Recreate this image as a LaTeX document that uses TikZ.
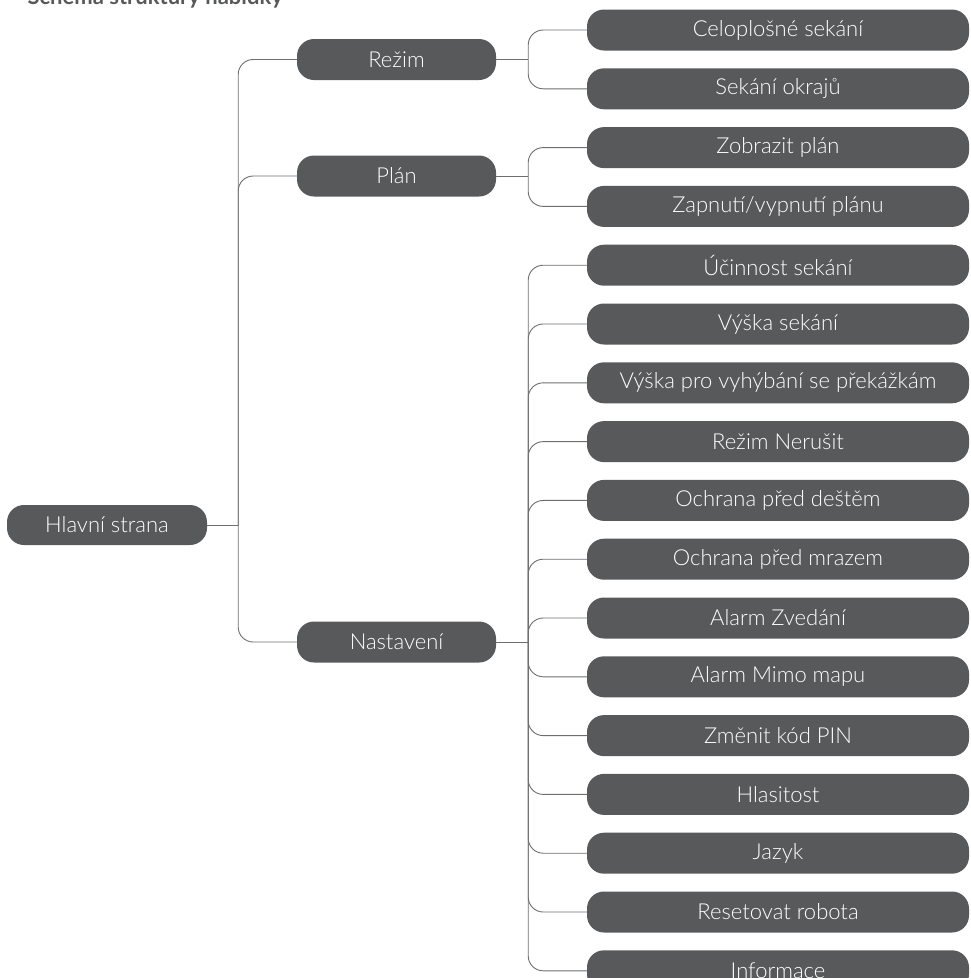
\documentclass[tikz,border=0pt]{standalone}
\usepackage{fontspec}
\setmainfont{Lato Light}
\newfontfamily\titlefont{Lato}
\usetikzlibrary{positioning}
\definecolor{boxgray}{HTML}{58595B}
\definecolor{linegray}{HTML}{6D6E71}

\begin{document}
\begin{tikzpicture}[
  x=1pt, y=-1pt,
  node distance=17.4pt,
  box/.style={
    rectangle, fill=boxgray, rounded corners=17pt,
    minimum height=41pt, inner sep=0pt, text=white,
    font=\fontsize{22}{26}\selectfont, align=center
  },
  rootbox/.style={box, minimum width=200pt, minimum height=40pt},
  menubox/.style={box, minimum width=199pt},
  itembox/.style={box, minimum width=382pt},
  link/.style={draw=linegray, line width=0.9pt},
  elbow/.style={link, rounded corners=15pt}
]
  \useasboundingbox (0,0) rectangle (970,978);

  % Title (cut off at the top)
  \node[anchor=base east, text=boxgray, inner sep=0pt,
    font=\titlefont\bfseries\fontsize{22}{26}\selectfont] (title) at (283,4)
    {Schéma struktury nabídky};

  % Main nodes
  \node[rootbox] (hlavni) at (107,525) {Hlavní strana};
  \node[menubox] (rezim) at (396.5,59.5) {Režim};
  \node[menubox] (plan) at (396.5,176) {Plán};
  \node[menubox] (nastaveni) at (396.5,642) {Nastavení};

  % Sub-items
  \node[itembox] (celo) at (778,30) {Celoplošné sekání};
  \node[itembox, below=of celo] (okraje) {Sekání okrajů};
  \node[itembox, below=of okraje] (zobrazit) {Zobrazit plán};
  \node[itembox, below=of zobrazit] (zapnuti) {Zapnutí/vypnutí plánu};
  \node[itembox, below=of zapnuti] (ucinnost) {Účinnost sekání};
  \node[itembox, below=of ucinnost] (vyska) {Výška sekání};
  \node[itembox, below=of vyska] (prekazky) {Výška pro vyhýbání se překážkám};
  \node[itembox, below=of prekazky] (nerusit) {Režim Nerušit};
  \node[itembox, below=of nerusit] (dest) {Ochrana před deštěm};
  \node[itembox, below=of dest] (mraz) {Ochrana před mrazem};
  \node[itembox, below=of mraz] (zvedani) {Alarm Zvedání};
  \node[itembox, below=of zvedani] (mimo) {Alarm Mimo mapu};
  \node[itembox, below=of mimo] (pin) {Změnit kód PIN};
  \node[itembox, below=of pin] (hlasitost) {Hlasitost};
  \node[itembox, below=of hlasitost] (jazyk) {Jazyk};
  \node[itembox, below=of jazyk] (reset) {Resetovat robota};
  \node[itembox, below=of reset] (info) {Informace};

  % Connectors from the main page
  \draw[link] (hlavni.east) -- ++(31,0) coordinate (jhlavni);
  \draw[elbow] (jhlavni) |- (rezim.west);
  \draw[elbow] (jhlavni) |- (plan.west);
  \draw[elbow] (jhlavni) |- (nastaveni.west);

  % Connectors of Režim
  \draw[link] (rezim.east) -- ++(32,0) coordinate (jrezim);
  \draw[elbow] (jrezim) |- (celo.west);
  \draw[elbow] (jrezim) |- (okraje.west);

  % Connectors of Plán
  \draw[link] (plan.east) -- ++(32,0) coordinate (jplan);
  \draw[elbow] (jplan) |- (zobrazit.west);
  \draw[elbow] (jplan) |- (zapnuti.west);

  % Connectors of Nastavení
  \draw[link] (nastaveni.east) -- ++(32,0) coordinate (jnast);
  \draw[elbow] (jnast) |- (ucinnost.west);
  \draw[elbow] (jnast) |- (vyska.west);
  \draw[elbow] (jnast) |- (prekazky.west);
  \draw[elbow] (jnast) |- (nerusit.west);
  \draw[elbow] (jnast) |- (dest.west);
  \draw[elbow] (jnast) |- (mraz.west);
  \draw[elbow] (jnast) |- (zvedani.west);
  \draw[elbow] (jnast) |- (mimo.west);
  \draw[elbow] (jnast) |- (pin.west);
  \draw[elbow] (jnast) |- (hlasitost.west);
  \draw[elbow] (jnast) |- (jazyk.west);
  \draw[elbow] (jnast) |- (reset.west);
  \draw[elbow] (jnast) |- (info.west);
\end{tikzpicture}
\end{document}
